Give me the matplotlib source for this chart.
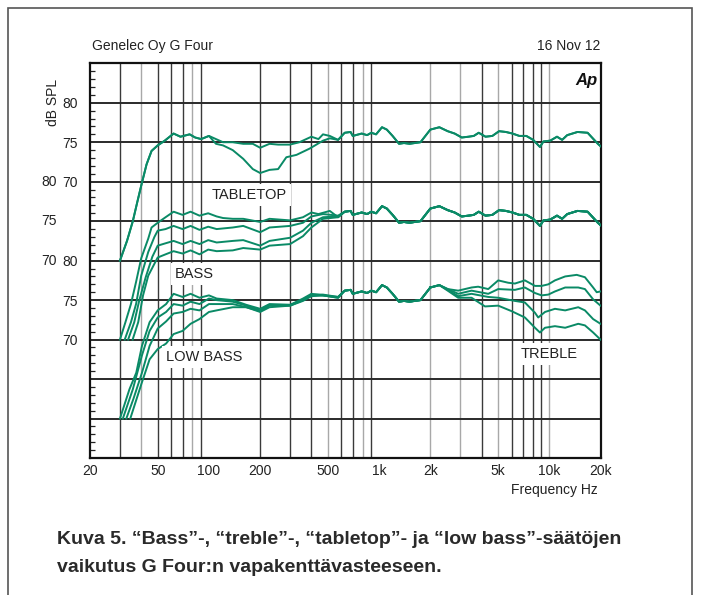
import matplotlib.pyplot as plt
import matplotlib.patches as patches
import numpy as np

plt.rcParams['font.family'] = ['Liberation Sans', 'DejaVu Sans']

# tabletop switch off (flat), dB SPL; also the shared part of the other curves
flat_hz = [30, 33, 35.7, 38, 40, 43, 46, 50, 55, 62, 68, 77, 83, 90, 100, 110, 121, 138, 159, 181,
           200, 227, 255, 299, 340, 400, 440, 468, 513, 574, 628, 680, 700, 790, 850, 900, 960, 1040,
           1110, 1200, 1310, 1400, 1510, 1620, 1750, 2000, 2260, 2530, 2780, 3060, 3350, 3600, 3850,
           4220, 4630, 5070, 5560, 6080, 6670, 7330, 8040, 8820, 9240, 10130, 11100, 11900, 12750,
           14650, 16800, 19300, 20000]
flat_db = [60, 62.5, 65, 67.5, 69.5, 72.2, 73.9, 74.6, 75.2, 76.1, 75.7, 76.0, 75.6, 75.4, 75.8, 75.4,
           75.0, 75.0, 74.8, 74.8, 74.3, 74.8, 74.7, 74.7, 75.0, 75.7, 75.4, 76.0, 75.8, 75.3, 76.2,
           76.3, 75.8, 76.1, 75.9, 76.2, 76.0, 76.9, 76.6, 75.8, 74.8, 74.9, 74.8, 74.9, 75.0, 76.6,
           76.9, 76.4, 76.1, 75.6, 75.7, 75.8, 76.2, 75.7, 75.8, 76.4, 76.3, 76.1, 75.8, 75.8, 75.3,
           74.4, 75.1, 75.2, 75.7, 75.3, 75.9, 76.3, 76.2, 74.8, 74.5]

# tabletop switch on: dip around 200 Hz
tabletop_hz = [110, 121, 138, 159, 181, 200, 227, 255, 285, 327, 391, 468, 513, 574]
tabletop_db = [74.8, 74.6, 74.0, 72.9, 71.6, 71.1, 71.5, 71.6, 73.1, 73.4, 74.2, 75.2, 75.5, 75.3]

# bass settings
bass_hz = [
    [30, 32.3, 34.8, 37.3, 40, 44, 46, 50, 55.6, 62, 70, 78, 88, 99, 111, 121, 138, 159, 200, 227,
     300, 357, 400, 440, 513, 574],
    [32, 34.8, 37.3, 40, 44, 47.8, 50, 55.6, 62, 70, 78, 88, 99, 111, 138, 159, 200, 227, 300, 357,
     400, 468, 574],
    [33.5, 36.4, 39, 42.5, 46.5, 50, 55.6, 62, 70, 78, 88, 99, 111, 138, 159, 200, 227, 300, 357,
     400, 468, 574],
    [35.6, 38.4, 41, 44, 47.8, 50, 55.6, 62, 70, 78, 88, 99, 111, 138, 159, 200, 227, 300, 357, 400,
     468, 574],
]
bass_db = [
    [60, 62.2, 64.5, 67.3, 70.3, 72.8, 74.2, 74.8, 75.5, 76.2, 75.8, 76.2, 75.7, 76.0, 75.6, 75.4,
     75.3, 75.3, 74.9, 75.3, 75.1, 75.5, 76.1, 75.9, 76.3, 75.5],
    [60, 62.2, 64.5, 68.1, 71.1, 73.0, 73.8, 74.0, 74.4, 74.0, 74.4, 73.9, 74.3, 74.0, 74.2, 74.4,
     73.6, 74.2, 74.4, 74.8, 75.6, 75.9, 75.7],
    [60, 62.2, 65.0, 67.9, 70.5, 71.9, 72.2, 72.5, 72.1, 72.5, 72.1, 72.6, 72.3, 72.5, 72.6, 71.9,
     72.5, 72.9, 73.8, 74.8, 75.5, 75.6],
    [60, 62.2, 65.6, 68.1, 69.6, 70.4, 70.8, 71.2, 70.9, 71.3, 70.8, 71.4, 71.2, 71.3, 71.6, 71.4,
     71.9, 72.1, 73.1, 74.2, 75.3, 75.5],
]

# low bass settings
low_hz = [
    [30, 34.1, 37.4, 40.4, 44.8, 50, 56, 62, 70, 78, 88, 100, 111, 138, 166, 200, 227, 300, 357, 400,
     468, 574],
    [31.2, 35.7, 40.4, 44.8, 50, 56, 62, 70, 78, 88, 100, 111, 138, 166, 200, 227, 300, 357, 400,
     468, 574],
    [32.7, 36, 40.4, 44.8, 50, 56, 62, 70, 78, 88, 100, 111, 138, 166, 200, 227, 300, 357, 400, 468,
     574],
    [34.5, 40.4, 44.8, 50, 56, 62, 70, 78, 88, 100, 111, 138, 166, 200, 227, 300, 357, 400, 468, 574],
]
low_db = [
    [60, 63.7, 65.8, 69.2, 72.2, 73.7, 74.5, 75.8, 75.4, 75.8, 75.3, 75.6, 75.2, 75.0, 74.4, 73.9,
     74.5, 74.4, 75.2, 75.8, 75.6, 75.4],
    [60, 63.7, 68.0, 71.1, 72.8, 73.5, 74.5, 74.3, 74.8, 74.5, 75.2, 75.0, 74.8, 74.3, 73.7, 74.4,
     74.4, 75.0, 75.7, 75.7, 75.4],
    [60, 62.5, 65.8, 69.2, 71.4, 72.3, 73.3, 73.5, 73.9, 73.7, 74.5, 74.5, 74.5, 74.1, 73.6, 74.3,
     74.3, 75.0, 75.6, 75.6, 75.3],
    [60, 64.6, 67.5, 68.8, 69.5, 70.7, 71.1, 72.0, 72.6, 73.5, 73.7, 74.1, 74.1, 73.5, 74.1, 74.3,
     74.9, 75.5, 75.6, 75.3],
]

# treble settings (same panel as low bass)
treble_hz = [
    [2000, 2260, 2530, 2916, 3494, 3820, 4380, 5010, 5740, 6280, 7190, 8240, 9020, 9870, 10800,
     12400, 14500, 16200, 18100, 19000, 20000],
    [2000, 2260, 2530, 2916, 3494, 4380, 5010, 6280, 7190, 8240, 9020, 9870, 10800, 12400, 14800,
     16200, 18100, 20000],
    [2000, 2260, 2530, 2916, 3494, 4380, 5010, 6280, 7190, 8240, 8610, 9440, 10800, 12400, 14800,
     16200, 18100, 20000],
    [2000, 2260, 2530, 2916, 3494, 4190, 5010, 6010, 7190, 8240, 8810, 9440, 10800, 12400, 14800,
     16200, 18100, 20000],
]
treble_db = [
    [76.6, 76.9, 76.4, 76.2, 76.6, 76.7, 76.4, 77.5, 77.2, 77.1, 77.5, 76.8, 76.8, 77.0, 77.5, 78.0,
     78.2, 77.9, 76.6, 76.0, 76.1],
    [76.6, 76.9, 76.4, 75.8, 76.2, 75.8, 76.4, 76.3, 76.6, 75.9, 75.6, 75.7, 76.1, 76.6, 76.6, 76.4,
     75.1, 74.3],
    [76.6, 76.9, 76.3, 75.5, 75.8, 75.4, 75.3, 74.9, 74.7, 73.4, 72.8, 73.5, 73.9, 73.7, 74.1, 73.7,
     72.6, 72.0],
    [76.6, 76.9, 76.2, 75.3, 75.3, 74.2, 74.3, 73.6, 72.8, 71.5, 70.9, 71.5, 71.7, 71.5, 72.0, 71.8,
     70.9, 70.0],
]

x_ticks = [20, 50, 100, 200, 500, 1000, 2000, 5000, 10000, 20000]
x_labels = ['20', '50', '100', '200', '500', '1k', '2k', '5k', '10k', '20k']
light_lines = [40, 80, 500, 800, 2000, 3000, 5000, 10000]

# each panel is shifted down on the shared dB axis
TABLETOP_SHIFT = 0
BASS_SHIFT = -10
LOW_SHIFT = -20

GREEN = '#0a8a66'
INK = '#222222'


def splice(hz, db, head=False, upto=None):
    f = np.array(flat_hz, dtype=float)
    d = np.array(flat_db, dtype=float)
    hz = np.array(hz, dtype=float)
    db = np.array(db, dtype=float)
    tail = f > hz[-1]
    if upto is not None:
        tail &= f <= upto
    parts_f = [hz, f[tail]]
    parts_d = [db, d[tail]]
    if head:
        lead = f < hz[0]
        parts_f.insert(0, f[lead])
        parts_d.insert(0, d[lead])
    return np.concatenate(parts_f), np.concatenate(parts_d)


fig = plt.figure(figsize=(7.01, 5.95), dpi=100)
ax = fig.add_axes([90 / 701, 1 - 458 / 595, 510.5 / 701, 394.7 / 595])

ax.set_xscale('log')
ax.set_xlim(20, 20000)
ax.set_ylim(35, 85)

# vertical grid
for decade in [10, 100, 1000]:
    for k in range(2, 10):
        f = k * decade
        if f <= 20 or f >= 20000:
            continue
        c = '#a8a8a8' if f in light_lines else '#3a3a3a'
        ax.axvline(f, color=c, lw=1.0, zorder=1)
ax.axvline(10000, color='#a8a8a8', lw=1.0, zorder=1)
for y in range(40, 85, 5):
    ax.axhline(y, color='#2a2a2a', lw=1.4, zorder=1)

lw = 1.4
ax.plot(flat_hz, np.array(flat_db) + TABLETOP_SHIFT, color=GREEN, lw=lw, zorder=3)
f, d = splice(tabletop_hz, tabletop_db, head=True)
ax.plot(f, d + TABLETOP_SHIFT, color=GREEN, lw=lw, zorder=3)

for hz, db in zip(bass_hz, bass_db):
    f, d = splice(hz, db)
    ax.plot(f, d + BASS_SHIFT, color=GREEN, lw=lw, zorder=3)

for hz, db in zip(low_hz, low_db):
    f, d = splice(hz, db, upto=2000)
    ax.plot(f, d + LOW_SHIFT, color=GREEN, lw=lw, zorder=3)

for hz, db in zip(treble_hz, treble_db):
    ax.plot(hz, np.array(db) + LOW_SHIFT, color=GREEN, lw=lw, zorder=3)

box = dict(facecolor='white', edgecolor='none', pad=3)
ax.text(173, 68.3, 'TABLETOP', fontsize=10.5, ha='center', va='center', color=INK, bbox=box,
        zorder=4)
ax.text(82, 58.3, 'BASS', fontsize=10.5, ha='center', va='center', color=INK, bbox=box, zorder=4)
ax.text(94, 47.8, 'LOW BASS', fontsize=10.5, ha='center', va='center', color=INK, bbox=box,
        zorder=4)
ax.text(10000, 48.2, 'TREBLE', fontsize=10.5, ha='center', va='center', color=INK, bbox=box,
        zorder=4)

# axes, ticks
ax.set_xticks(x_ticks)
ax.set_xticklabels(x_labels)
ax.xaxis.set_minor_locator(plt.NullLocator())
ax.tick_params(axis='x', length=0, pad=4, labelsize=10, labelcolor=INK)

ax.set_yticks(range(40, 85, 5))
ax.set_yticklabels(['', '', '70', '75', '80', '', '70', '75', '80'])
ax.set_yticks(range(36, 85), minor=True)
ax.tick_params(axis='y', which='major', direction='in', length=0, pad=9, labelsize=10,
               labelcolor=INK)
ax.tick_params(axis='y', which='minor', direction='in', length=3.5, width=0.9, color=INK)
for sp in ax.spines.values():
    sp.set_linewidth(1.6)
    sp.set_color('#111111')

trans = ax.get_yaxis_transform()
for y, lab in [(70, '80'), (65, '75'), (60, '70')]:
    ax.text(-0.065, y, lab, transform=trans, ha='right', va='center', fontsize=10, color=INK)

ax.text(-0.059, 80.0, 'dB SPL', transform=trans, rotation=90, ha='right', va='center',
        fontsize=10, color=INK)
ax.text(0.995, 0.957, 'Ap', transform=ax.transAxes, ha='right', va='center', fontsize=12,
        fontweight='bold', style='italic', color='#111111')

fig.text(92 / 701, 1 - 46 / 595, 'Genelec Oy G Four', fontsize=10, ha='left', va='center',
         color=INK)
fig.text(600 / 701, 1 - 46 / 595, '16 Nov 12', fontsize=10, ha='right', va='center', color=INK)
fig.text(598 / 701, 1 - 490 / 595, 'Frequency Hz', fontsize=10, ha='right', va='center',
         color=INK)

fig.text(57 / 701, 1 - 540 / 595,
         'Kuva 5. \u201cBass\u201d-, \u201ctreble\u201d-, \u201ctabletop\u201d- ja \u201clow bass\u201d-s\u00e4\u00e4t\u00f6jen',
         fontsize=14, fontweight='bold', ha='left', va='center', color='#2a2a2a')
fig.text(57 / 701, 1 - 567 / 595, 'vaikutus G Four:n vapakentt\u00e4vasteeseen.',
         fontsize=14, fontweight='bold', ha='left', va='center', color='#2a2a2a')

fig.add_artist(patches.Rectangle((8 / 701, -0.01), 684 / 701, 1 - 8 / 595 + 0.01,
                                 transform=fig.transFigure, fill=False, lw=1.2,
                                 edgecolor='#555555'))

fig.savefig('out.png', dpi=100)
